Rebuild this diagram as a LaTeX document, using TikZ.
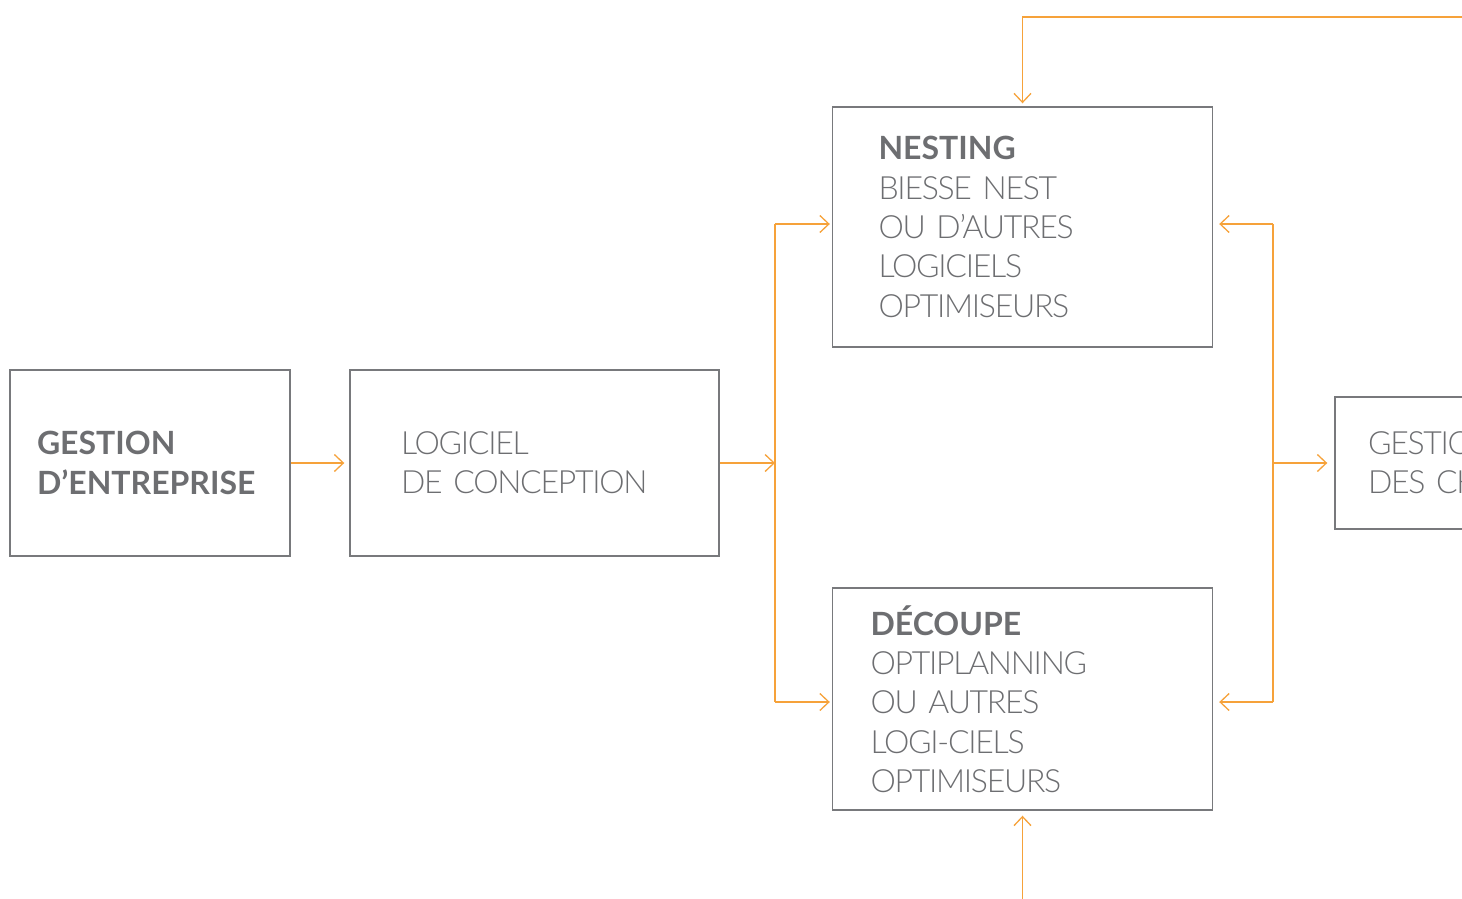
\documentclass[tikz,border=0pt]{standalone}
\usepackage{fontspec}
\setmainfont{Lato}[UprightFont={* Light},BoldFont={* Bold},UprightFeatures={LetterSpace=-4}]
\usetikzlibrary{arrows.meta}
\definecolor{txtgray}{RGB}{109,110,113}
\definecolor{boxgray}{RGB}{120,121,124}
\definecolor{flow}{RGB}{246,162,58}
\tikzset{
  box/.style={draw=boxgray,line width=1.4pt,rectangle,align=left,text=txtgray,
    font=\fontsize{32}{39.3}\selectfont,inner ysep=0pt},
  arr/.style={draw=flow,line width=1.3pt,-{Straight Barb[length=9pt,width=17pt,line width=1.3pt]}},
  flowline/.style={draw=flow,line width=1.3pt},
}
\begin{document}
\begin{tikzpicture}[x=1pt,y=-1pt]
\useasboundingbox (0,0) rectangle (1462,898);
\clip (0,0) rectangle (1462,898);
\node[box,minimum height=186pt,inner xsep=27pt,text width=226pt] (gest) at (150,463) {\textbf{GESTION}\\\textbf{D’ENTREPRISE}};
\node[box,minimum height=186pt,inner xsep=51pt,text width=267pt] (conc) at (534.5,463) {LOGICIEL\\DE CONCEPTION};
\node[box,minimum height=240pt,inner xsep=46pt,text width=288pt] (nest) at (1022.5,227) {\textbf{NESTING}\\BIESSE NEST\\OU D’AUTRES\\LOGICIELS\\OPTIMISEURS};
\node[box,minimum height=222pt,inner xsep=38pt,text width=304pt] (dec) at (1022.5,699) {\textbf{DÉCOUPE}\\OPTIPLANNING\\OU AUTRES\\LOGI-CIELS\\OPTIMISEURS};
\node[box,minimum height=132pt,inner xsep=33pt,text width=234pt] (chut) at (1485,463) {GESTION\\DES CH};
\coordinate (tl) at (775,463);
\coordinate (tlt) at (775,224);
\coordinate (tlb) at (775,702);
\coordinate (trt) at (1273,224);
\coordinate (trb) at (1273,702);
\coordinate (trm) at (1273,463);
\coordinate (topR) at (1475,17);
\coordinate (topL) at (1022.5,17);
\coordinate (botS) at (1022.5,905);
\draw[arr,shorten >=5pt] (gest.east |- tl) -- (conc.west |- tl);
\draw[arr] (conc.east |- tl) -- (tl);
\draw[flowline] (tlt) -- (tlb);
\draw[arr,shorten >=2pt] (tlt) -- (nest.west |- tlt);
\draw[arr,shorten >=2pt] (tlb) -- (dec.west |- tlb);
\draw[flowline] (trt) -- (trb);
\draw[arr,shorten >=6pt] (trt) -- (nest.east |- trt);
\draw[arr,shorten >=6pt] (trb) -- (dec.east |- trb);
\draw[arr,shorten >=7pt] (trm) -- (chut.west |- trm);
\draw[arr,shorten >=3pt] (topR) -- (topL) -- (nest.north);
\draw[arr,shorten >=5pt] (botS) -- (dec.south);
\end{tikzpicture}
\end{document}
